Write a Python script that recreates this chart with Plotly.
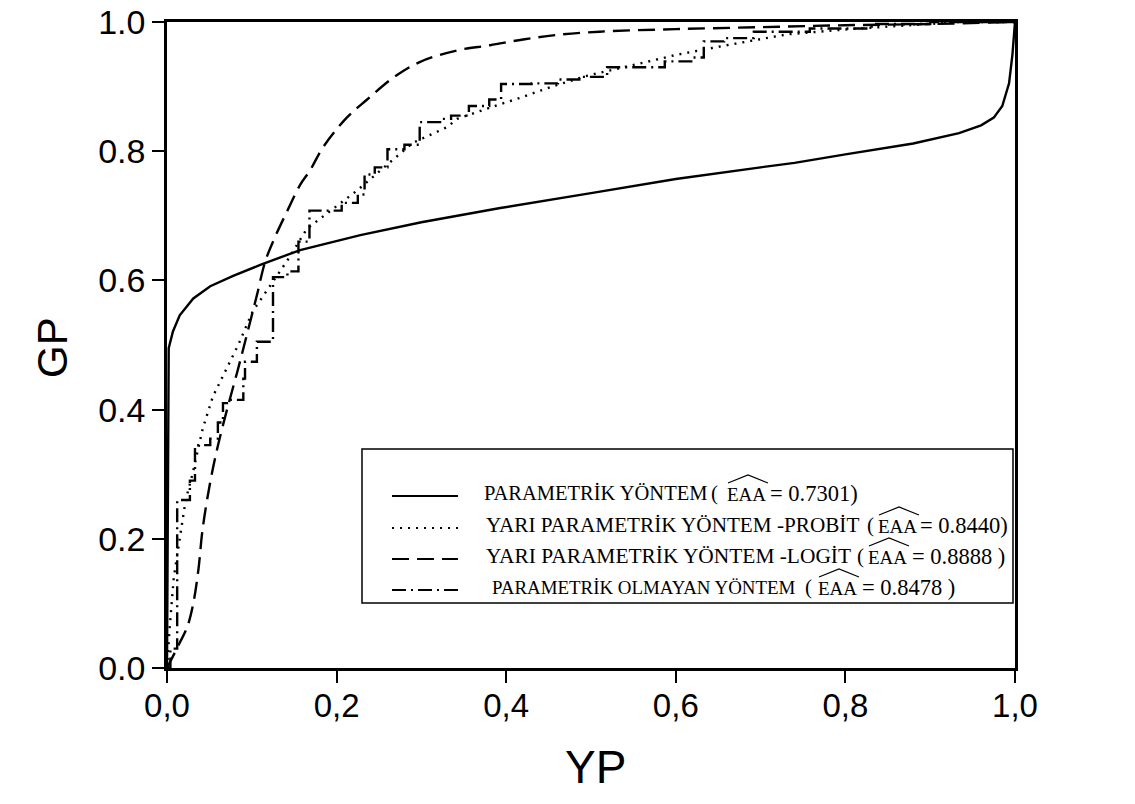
import plotly.graph_objects as go

# ---------------- data ----------------
param_x = [0.0, 0.001, 0.002, 0.007, 0.015, 0.031, 0.051, 0.078, 0.11, 0.157, 0.228, 0.30, 0.346, 0.393,
           0.5, 0.6, 0.7, 0.74, 0.8, 0.848, 0.88, 0.934, 0.96, 0.975, 0.985, 0.993, 0.997, 1.0]
param_y = [0.0, 0.30, 0.495, 0.521, 0.546, 0.572, 0.591, 0.607, 0.624, 0.647, 0.670, 0.690, 0.701, 0.712,
           0.735, 0.757, 0.775, 0.782, 0.795, 0.805, 0.812, 0.828, 0.840, 0.852, 0.870, 0.905, 0.95, 1.0]

probit_x = [0.0, 0.003, 0.008, 0.015, 0.022, 0.030, 0.042, 0.054, 0.072, 0.084, 0.101, 0.118, 0.142, 0.165,
            0.190, 0.224, 0.255, 0.290, 0.330, 0.342, 0.389, 0.415, 0.454, 0.496, 0.565, 0.600, 0.660,
            0.732, 0.805, 0.874, 0.934, 1.0]
probit_y = [0.0, 0.06, 0.14, 0.20, 0.26, 0.30, 0.37, 0.42, 0.468, 0.50, 0.552, 0.585, 0.631, 0.680,
            0.705, 0.739, 0.774, 0.813, 0.837, 0.850, 0.871, 0.882, 0.900, 0.917, 0.938, 0.949, 0.964,
            0.981, 0.989, 0.995, 1.0, 1.0]

logit_x = [0.0, 0.015, 0.024, 0.031, 0.037, 0.042, 0.051, 0.060, 0.071, 0.083, 0.094, 0.106, 0.116,
           0.127, 0.142, 0.157, 0.169, 0.184, 0.212, 0.236, 0.267, 0.298, 0.342, 0.381, 0.42, 0.46,
           0.51, 0.60, 0.70, 0.80, 0.90, 1.0]
logit_y = [0.0, 0.039, 0.064, 0.10, 0.152, 0.215, 0.288, 0.344, 0.401, 0.459, 0.515, 0.577, 0.630,
           0.666, 0.708, 0.748, 0.771, 0.806, 0.852, 0.880, 0.914, 0.938, 0.956, 0.964, 0.973, 0.980,
           0.985, 0.989, 0.992, 0.995, 0.997, 1.0]

nonpar_x = [0.0, 0.004, 0.012, 0.027, 0.033, 0.051, 0.060, 0.066, 0.075, 0.090, 0.092, 0.106, 0.125,
            0.142, 0.155, 0.168, 0.206, 0.225, 0.233, 0.245, 0.260, 0.280, 0.298, 0.322, 0.335, 0.356,
            0.380, 0.394, 0.430, 0.461, 0.490, 0.519, 0.587, 0.620, 0.633, 0.657, 0.692, 0.758, 0.831,
            0.900, 1.0]
nonpar_y = [0.0, 0.03, 0.26, 0.29, 0.345, 0.355, 0.38, 0.41, 0.415, 0.448, 0.474, 0.505, 0.605,
            0.614, 0.660, 0.708, 0.720, 0.733, 0.764, 0.775, 0.803, 0.810, 0.845, 0.850, 0.855, 0.870,
            0.880, 0.904, 0.905, 0.911, 0.915, 0.930, 0.939, 0.945, 0.970, 0.975, 0.985, 0.990, 0.997,
            1.0, 1.0]

tick_vals = [0.0, 0.2, 0.4, 0.6, 0.8, 1.0]
x_tick_text = ["0,0", "0,2", "0,4", "0,6", "0,8", "1,0"]
y_tick_text = ["0.0", "0.2", "0.4", "0.6", "0.8", "1.0"]

legend_names = ["PARAMETRİK YÖNTEM", "YARI PARAMETRİK YÖNTEM -PROBİT",
                "YARI PARAMETRİK YÖNTEM -LOGİT", "PARAMETRİK OLMAYAN YÖNTEM"]
legend_values = ["= 0.7301)", "= 0.8440)", "= 0.8888 )", "= 0.8478 )"]

# ---------------- layout geometry (screen pixels; body margin removed by post_script) ----------------
W, H = 1135, 804
L, R, T, B = 167, 1015, 22, 668   # plot frame in screen pixels


def px(x):
    return (x - L) / (R - L)


def py(y):
    return (B - y) / (B - T)


dashes = ["solid", "2px,6px", "17px,8px", "14px,5px,2px,5px"]
series = [(param_x, param_y), (probit_x, probit_y), (logit_x, logit_y), (nonpar_x, nonpar_y)]
shapes_line = ["linear", "linear", "spline", "hv"]

fig = go.Figure()
for (xs, ys), d, shp, nm in zip(series, dashes, shapes_line, legend_names):
    fig.add_trace(go.Scatter(x=xs, y=ys, mode="lines", name=nm, showlegend=False, hoverinfo="skip",
                             line=dict(color="black", width=2.4, dash=d, shape=shp)))

axis_common = dict(range=[0, 1], showgrid=False, zeroline=False, showline=True, mirror=True,
                   linecolor="black", linewidth=2.5, ticks="outside", ticklen=12, tickwidth=2,
                   tickcolor="black", tickvals=tick_vals, ticklabeloverflow="allow", automargin=False)

fig.update_layout(
    width=W, height=H,
    margin=dict(l=L, r=W - R, t=T, b=H - B, autoexpand=False),
    paper_bgcolor="white", plot_bgcolor="white",
    xaxis=dict(**axis_common, ticktext=x_tick_text, ticklabelstandoff=-5,
               tickfont=dict(family="Liberation Sans, Arial, sans-serif", size=33, color="black")),
    yaxis=dict(**axis_common, ticktext=y_tick_text,
               tickfont=dict(family="Liberation Sans, Arial, sans-serif", size=34, color="black")),
    showlegend=False,
)

annotations = [
    dict(text="YP", x=px(595), y=py(767), xref="paper", yref="paper", showarrow=False,
         xanchor="center", yanchor="middle",
         font=dict(family="Liberation Sans, Arial, sans-serif", size=46, color="black")),
    dict(text="GP", x=px(52), y=py(347), xref="paper", yref="paper", showarrow=False, textangle=-90,
         xanchor="center", yanchor="middle",
         font=dict(family="Liberation Sans, Arial, sans-serif", size=42, color="black")),
]

shapes = [dict(type="rect", xref="paper", yref="paper", x0=px(362), x1=px(1013), y0=py(603), y1=py(449),
               line=dict(color="black", width=1.5), fillcolor="white", layer="above")]

row_y = [493, 525, 556, 587]
row_size = [20.5, 21.2, 21.4, 18.9]
name_x = [482, 484, 484, 490]
paren_x = [709, 865, 855, 803]
eaa_x = [725, 876, 866, 816]
val_x = [768, 918, 910, 860]
SERIF = "Liberation Serif, Times New Roman, serif"

for i in range(4):
    yy = row_y[i]
    f = dict(family=SERIF, size=row_size[i], color="black")
    shapes.append(dict(type="line", xref="paper", yref="paper", x0=px(392), x1=px(458),
                       y0=py(yy + 3), y1=py(yy + 3), layer="above",
                       line=dict(color="black", width=1.8, dash=dashes[i])))
    annotations.append(dict(text=legend_names[i], x=px(name_x[i]), y=py(yy), xref="paper", yref="paper",
                            xanchor="left", yanchor="middle", showarrow=False, font=f))
    annotations.append(dict(text="(", x=px(paren_x[i]), y=py(yy), xref="paper", yref="paper",
                            xanchor="left", yanchor="middle", showarrow=False,
                            font=dict(family=SERIF, size=21, color="black")))
    annotations.append(dict(text="EAA", x=px(eaa_x[i]), y=py(yy + 1), xref="paper", yref="paper",
                            xanchor="left", yanchor="middle", showarrow=False,
                            font=dict(family=SERIF, size=19, color="black")))
    annotations.append(dict(text=legend_values[i], x=px(val_x[i]), y=py(yy), xref="paper", yref="paper",
                            xanchor="left", yanchor="middle", showarrow=False,
                            font=dict(family=SERIF, size=22.5, color="black")))
    # wide hat above EAA
    hx0, hx1 = eaa_x[i] + 3, eaa_x[i] + 43
    shapes.append(dict(type="path", xref="paper", yref="paper", layer="above",
                       path=f"M {px(hx0)} {py(yy - 10)} L {px((hx0 + hx1) / 2)} {py(yy - 18)} L {px(hx1)} {py(yy - 10)}",
                       line=dict(color="black", width=1.2)))

fig.update_layout(annotations=annotations, shapes=shapes)
fig.write_html("out.html", config={"displayModeBar": False},
               post_script="document.body.style.margin='0px';document.body.style.overflow='hidden';")
